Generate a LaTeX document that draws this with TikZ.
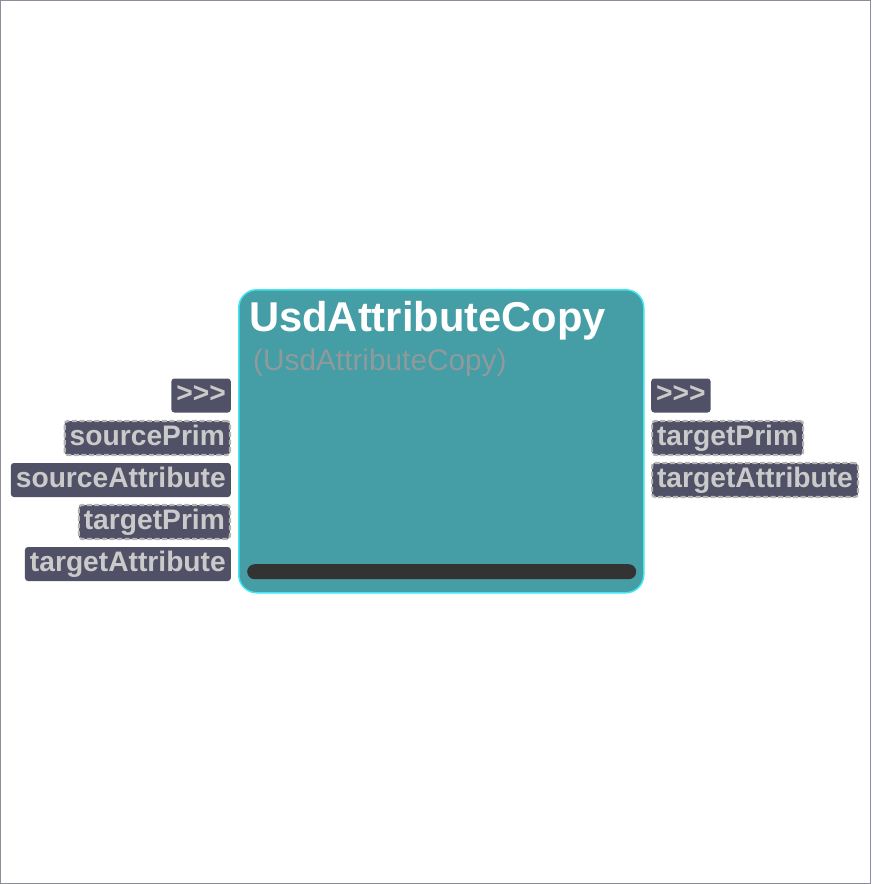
\documentclass[tikz,border=0pt]{standalone}
\usepackage{fontspec}
\setmainfont{Liberation Sans}
\usetikzlibrary{positioning}
\definecolor{Frame}{HTML}{8C8C9A}
\definecolor{Body}{HTML}{459DA5}
\definecolor{Edge}{HTML}{3FE6F0}
\definecolor{Port}{HTML}{505066}
\definecolor{PortText}{HTML}{CACACA}
\definecolor{Dash}{HTML}{B4B4B4}
\definecolor{Sub}{HTML}{8E9A9C}
\definecolor{Bar}{HTML}{333333}
\tikzset{
    nodebody/.style={rectangle, rounded corners=18pt, fill=Body, draw=Edge, line width=1.5pt, minimum width=405pt, minimum height=303pt, anchor=north west},
    port/.style={rectangle, rounded corners=3pt, fill=Port, text=PortText, font=\bfseries\fontsize{28.2}{30}\selectfont, minimum height=34pt, inner xsep=5pt, inner ysep=0pt, text height=20pt, text depth=6pt},
    optport/.style={port, draw=Dash, line width=2.2pt, dash pattern=on 5pt off 2.5pt},
}
\begin{document}
\begin{tikzpicture}[x=1pt, y=-1pt]
    % Rahmen
    \draw[Frame, line width=1pt] (0.5,0.5) rectangle (870.5,883.5);
    \useasboundingbox (0,0) rectangle (871,884);

    % Knoten
    \node[nodebody] (body) at (238,289) {};
    \node[anchor=base west, text=white, font=\bfseries\fontsize{41.7}{44}\selectfont, inner sep=0pt] (title) at (249,331) {UsdAttributeCopy};
    \node[anchor=base west, text=Sub, font=\fontsize{29.8}{32}\selectfont, inner sep=0pt] (type) at (253,370) {(UsdAttributeCopy)};
    \node[rectangle, rounded corners=7.5pt, fill=Bar, minimum width=389pt, minimum height=15pt, inner sep=0pt, anchor=north west] (bar) at (247,564) {};

    % Eingaenge
    \node[port, anchor=east] (inexec) at (231,395.5) {>{}>{}>};
    \node[optport, anchor=east] (insrcprim) at (231,438) {sourcePrim};
    \node[port, anchor=east] (insrcattr) at (231,480) {sourceAttribute};
    \node[optport, anchor=east] (intgtprim) at (231,522) {targetPrim};
    \node[port, anchor=east] (intgtattr) at (231,564) {targetAttribute};

    % Ausgaenge
    \node[port, anchor=west] (outexec) at (651,395.5) {>{}>{}>};
    \node[optport, anchor=west] (outtgtprim) at (651,438) {targetPrim};
    \node[optport, anchor=west] (outtgtattr) at (651,480) {targetAttribute};
\end{tikzpicture}
\end{document}
